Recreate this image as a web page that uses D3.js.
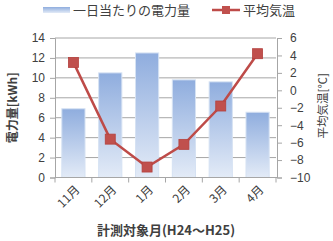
<!DOCTYPE html>
<html>
<head>
<meta charset="utf-8">
<script src="https://cdn.jsdelivr.net/npm/d3@7"></script>
<style>
  body { margin: 0; background: #fff; }
  text { fill: #404040; }
</style>
</head>
<body>
<div class="chart"></div>
<script>
const width = 333;
const height = 241;
const margin = {top: 38, right: 57, bottom: 63.5, left: 55};
const innerWidth = width - margin.left - margin.right;
const innerHeight = height - margin.top - margin.bottom;

// data
const months = ['11月', '12月', '1月', '2月', '3月', '4月'];
const power = [6.9, 10.5, 12.5, 9.8, 9.6, 6.55];
const temp = [3.2, -5.6, -8.8, -6.2, -1.8, 4.2];
const leftTicks = [0, 2, 4, 6, 8, 10, 12, 14];
const rightTicks = [-10, -8, -6, -4, -2, 0, 2, 4, 6];

const jp = '"Noto Sans CJK JP", sans-serif';
const num = '"Liberation Sans", sans-serif';

const svg = d3.select('.chart').append('svg')
  .attr('width', width).attr('height', height);

const defs = svg.append('defs');
const grad = defs.append('linearGradient')
  .attr('id', 'barGrad').attr('x1', 0).attr('y1', 0).attr('x2', 0).attr('y2', 1);
grad.append('stop').attr('offset', '0%').attr('stop-color', '#8fadde');
grad.append('stop').attr('offset', '100%').attr('stop-color', '#e3ebf7');

const x = d3.scaleBand().domain(months).range([0, innerWidth]).paddingInner(0.37).paddingOuter(0.185);
const xBound = d3.scaleBand().domain(months).range([0, innerWidth]);
const yL = d3.scaleLinear().domain([0, 14]).range([innerHeight, 0]);
const yR = d3.scaleLinear().domain([-10, 6]).range([innerHeight, 0]);

const g = svg.append('g').attr('transform', `translate(${margin.left},${margin.top})`);

// gridlines
g.selectAll('.grid').data(leftTicks).enter().append('line')
  .attr('x1', 0).attr('x2', innerWidth)
  .attr('y1', d => yL(d)).attr('y2', d => yL(d))
  .attr('stroke', '#a6a6a6').attr('stroke-width', 1);

// bars
g.selectAll('.bar').data(power).enter().append('rect')
  .attr('x', (d, i) => x(months[i]))
  .attr('y', d => yL(d))
  .attr('width', x.bandwidth())
  .attr('height', d => innerHeight - yL(d))
  .attr('fill', 'url(#barGrad)')
  .attr('stroke', '#d6e2f3').attr('stroke-width', 1);

// left axis
const yAxisL = d3.axisLeft(yL).tickValues(leftTicks).tickSize(5).tickPadding(5);
const gl = g.append('g').call(yAxisL);
gl.select('.domain').attr('stroke', '#a6a6a6');
gl.selectAll('.tick line').attr('stroke', '#a6a6a6');
gl.selectAll('.tick text').attr('fill', '#404040').style('font-family', num).style('font-size', '12px');

// right axis
const yAxisR = d3.axisRight(yR).tickValues(rightTicks).tickSize(5).tickPadding(8);
const gr = g.append('g').attr('transform', `translate(${innerWidth + 1},0)`).call(yAxisR);
gr.select('.domain').attr('stroke', '#a6a6a6');
gr.selectAll('.tick line').attr('stroke', '#a6a6a6');
gr.selectAll('.tick text').attr('fill', '#404040').style('font-family', num).style('font-size', '12px');

// bottom axis
const gb = g.append('g').attr('transform', `translate(0,${innerHeight})`);
gb.append('line').attr('x1', 0).attr('x2', innerWidth + 1).attr('stroke', '#a6a6a6');
gb.selectAll('.btick').data(months.concat(['end'])).enter().append('line')
  .attr('x1', (d, i) => i * xBound.step()).attr('x2', (d, i) => i * xBound.step())
  .attr('y1', 0).attr('y2', 5).attr('stroke', '#a6a6a6');
gb.selectAll('.xlab').data(months).enter().append('text')
  .attr('transform', d => `translate(${xBound(d) + xBound.bandwidth() / 2 + 4},${10}) rotate(-45)`)
  .attr('text-anchor', 'end')
  .attr('dy', '0.35em')
  .style('font-family', jp).style('font-size', '12px')
  .text(d => d);

// temperature line
const line = d3.line()
  .x((d, i) => xBound(months[i]) + xBound.bandwidth() / 2)
  .y(d => yR(d));
g.append('path').datum(temp)
  .attr('d', line).attr('fill', 'none')
  .attr('stroke', '#be4b48').attr('stroke-width', 2.5);
g.selectAll('.mark').data(temp).enter().append('rect')
  .attr('x', (d, i) => xBound(months[i]) + xBound.bandwidth() / 2 - 5)
  .attr('y', d => yR(d) - 5)
  .attr('width', 10).attr('height', 10)
  .attr('fill', '#c0504d').attr('stroke', '#b4413e').attr('stroke-width', 0.8);

// axis titles
svg.append('text')
  .attr('transform', `translate(17,${margin.top + innerHeight / 2}) rotate(-90)`)
  .attr('text-anchor', 'middle')
  .style('font-family', jp).style('font-size', '12px').style('font-weight', 'bold')
  .text('電力量[kWh]');
svg.append('text')
  .attr('transform', `translate(327,${margin.top + innerHeight / 2 - 2}) rotate(-90)`)
  .attr('text-anchor', 'middle')
  .style('font-family', jp).style('font-size', '11.5px')
  .text('平均気温[℃]');
svg.append('text')
  .attr('x', 166).attr('y', 235)
  .attr('text-anchor', 'middle')
  .style('font-family', jp).style('font-size', '13px').style('font-weight', 'bold')
  .text('計測対象月(H24～H25)');

// legend
const lg = svg.append('g');
lg.append('rect').attr('x', 43).attr('y', 7).attr('width', 27).attr('height', 6).attr('fill', 'url(#barGrad)');
lg.append('text').attr('x', 73).attr('y', 10).attr('dy', '0.35em')
  .style('font-family', jp).style('font-size', '13px').text('一日当たりの電力量');
lg.append('line').attr('x1', 212).attr('x2', 240).attr('y1', 10).attr('y2', 10)
  .attr('stroke', '#be4b48').attr('stroke-width', 2.5);
lg.append('rect').attr('x', 222).attr('y', 6).attr('width', 8).attr('height', 8).attr('fill', '#c0504d');
lg.append('text').attr('x', 243).attr('y', 10).attr('dy', '0.35em')
  .style('font-family', jp).style('font-size', '13px').text('平均気温');
</script>
</body>
</html>
